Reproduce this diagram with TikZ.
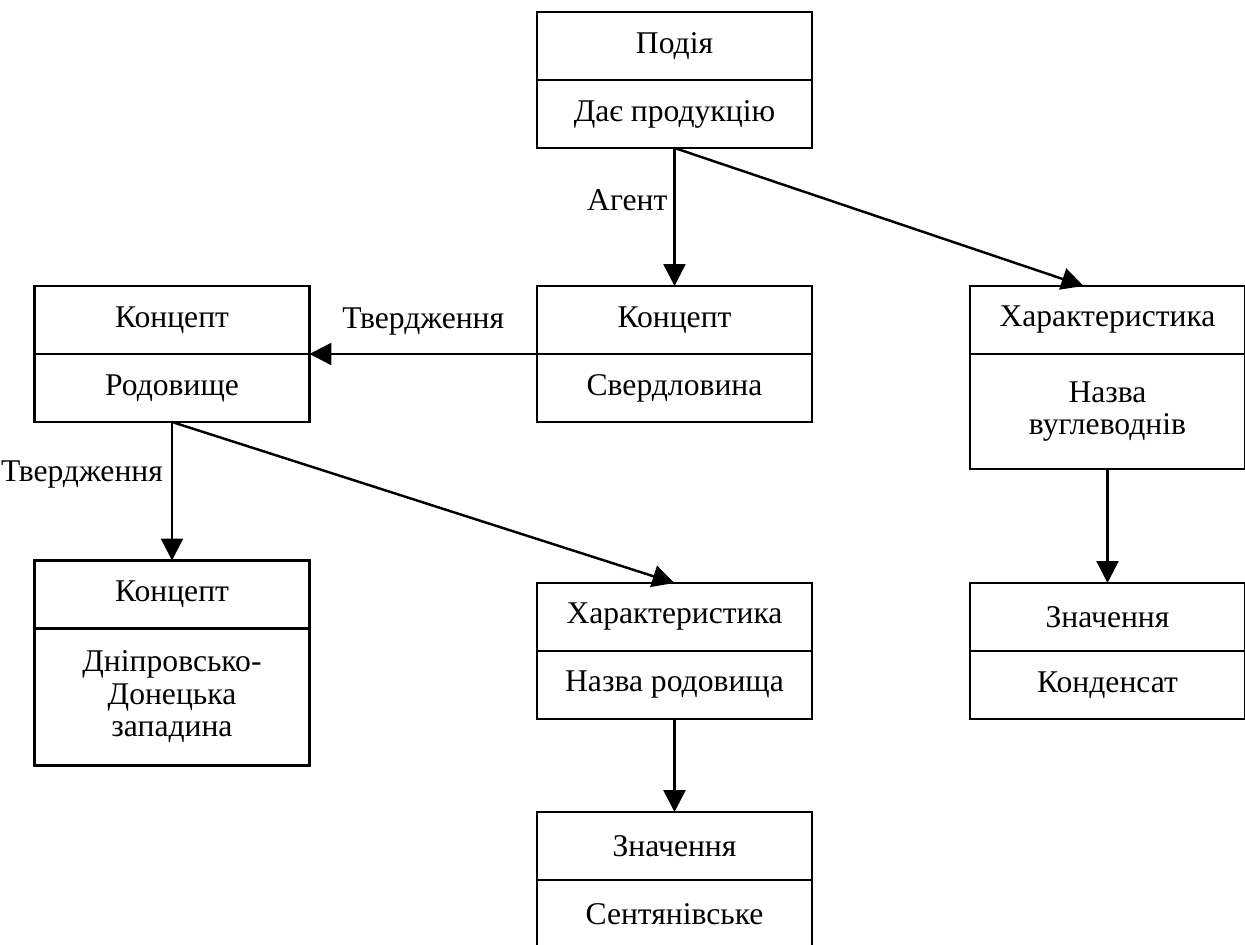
\documentclass[tikz,border=0pt]{standalone}
\usepackage{fontspec}
\setmainfont{Liberation Serif}
\usetikzlibrary{arrows.meta,positioning}
\begin{document}
\begin{tikzpicture}[x=0.02cm,y=-0.02cm,font=\fontsize{18}{18.5}\selectfont,
  hdr/.style={draw,line width=1.5pt,minimum width=5.5cm,minimum height=1.36cm,inner sep=0pt,outer sep=0pt},
  bdy/.style={hdr,align=center,below=0pt of #1},
  arr/.style={-{Triangle[length=0.44cm,width=0.44cm]},line width=1.4pt}]
\clip (0,0) rectangle (1245,945);
\node[hdr](podia) at (674.5,46){Подія};
\node[bdy=podia](podia-b){Дає продукцію};
\node[hdr](rod) at (172,320){Концепт};
\node[bdy=rod](rod-b){Родовище};
\node[hdr](sverd) at (674.5,320){Концепт};
\node[bdy=sverd](sverd-b){Свердловина};
\node[hdr](khar1) at (1107.5,320){Характеристика};
\node[bdy=khar1,minimum height=2.3cm](khar1-b){Назва\\вуглеводнів};
\node[hdr](dnipro) at (172,594.5){Концепт};
\node[bdy=dnipro,minimum height=2.74cm](dnipro-b){Дніпровсько-\\Донецька\\западина};
\node[hdr](khar2) at (674.5,617){Характеристика};
\node[bdy=khar2](khar2-b){Назва родовища};
\node[hdr](znach1) at (1107.5,617){Значення};
\node[bdy=znach1](znach1-b){Конденсат};
\node[hdr](znach2) at (674.5,846){Значення};
\node[bdy=znach2](znach2-b){Сентянівське};

\draw[arr](podia-b.south)--node[left,pos=.38]{Агент}(sverd.north);
\draw[arr](podia-b.south)--([xshift=-0.48cm]khar1.north);
\draw[arr](sverd.south west)--node[above=0.24cm]{Твердження}(rod.south east);
\draw[arr](rod-b.south)--node[left=0.04cm,pos=.38]{Твердження}(dnipro.north);
\draw[arr](rod-b.south)--(khar2.north);
\draw[arr](khar2-b.south)--(znach2.north);
\draw[arr](khar1-b.south)--(znach1.north);

\end{tikzpicture}
\end{document}
